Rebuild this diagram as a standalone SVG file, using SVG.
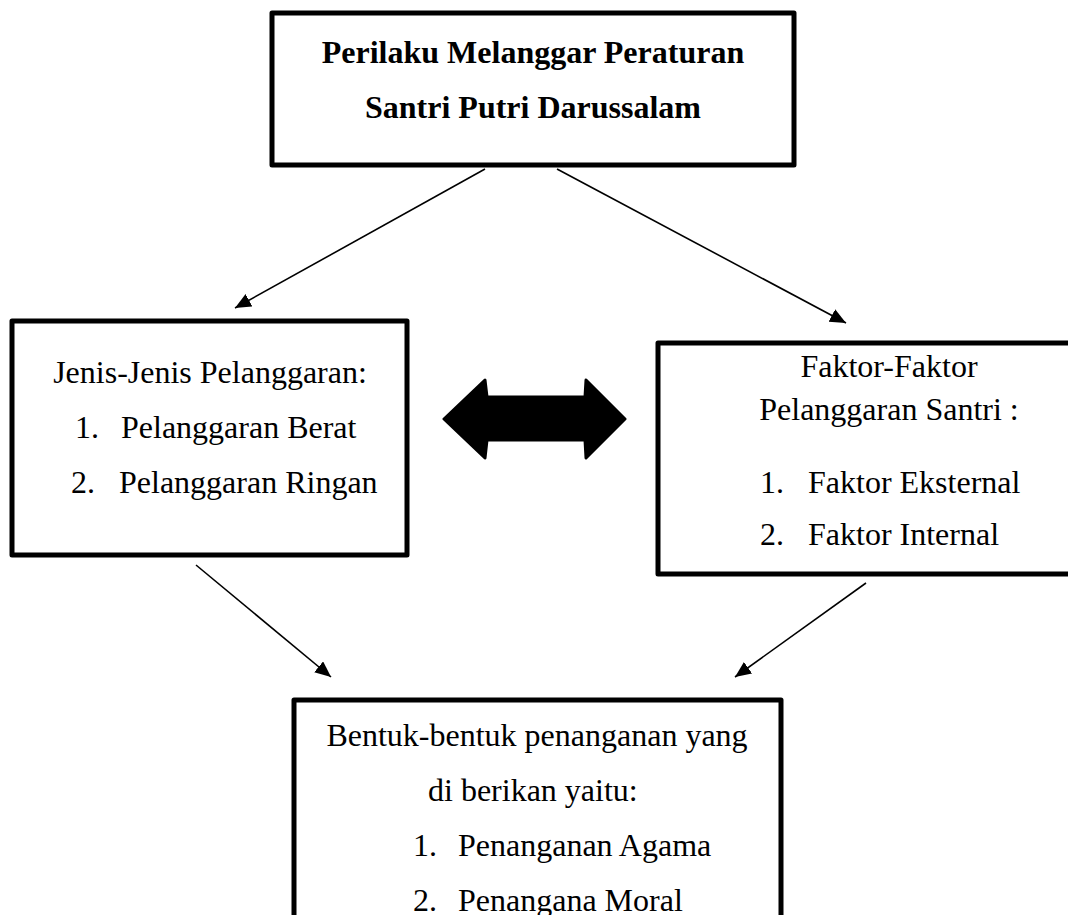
<svg xmlns="http://www.w3.org/2000/svg" width="1068" height="915" viewBox="0 0 1068 915">
<defs>
<style>
.box{fill:#fff;stroke:#000;stroke-width:5;stroke-linejoin:round}
.t{font-family:"Liberation Serif","Times New Roman",serif;font-size:32px;fill:#000}
.b{font-weight:bold}
.conn{stroke:#000;stroke-width:1.6;fill:none}
</style>
<marker id="ah" markerUnits="userSpaceOnUse" markerWidth="18" markerHeight="16" refX="16" refY="7" orient="auto">
<path d="M0,0 L16,7 L0,14 Z" fill="#000"/>
</marker>
</defs>
<rect width="1068" height="915" fill="#fff"/>
<g id="node-top">
<rect class="box" x="272" y="13" width="522" height="152"/>
<text class="t b" x="533" y="63" text-anchor="middle">Perilaku Melanggar Peraturan</text>
<text class="t b" x="533" y="118" text-anchor="middle">Santri Putri Darussalam</text>
</g>
<g id="node-jenis">
<rect class="box" x="12" y="321" width="395" height="234"/>
<text class="t" x="210" y="383" text-anchor="middle">Jenis-Jenis Pelanggaran:</text>
<text class="t" x="75" y="438">1.</text>
<text class="t" x="121" y="438">Pelanggaran Berat</text>
<text class="t" x="71" y="493">2.</text>
<text class="t" x="119" y="493">Pelanggaran Ringan</text>
</g>
<g id="node-faktor">
<rect class="box" x="658" y="343" width="420" height="231"/>
<text class="t" x="889" y="377" text-anchor="middle">Faktor-Faktor</text>
<text class="t" x="889" y="420" text-anchor="middle">Pelanggaran Santri :</text>
<text class="t" x="760" y="493">1.</text>
<text class="t" x="808" y="493">Faktor Eksternal</text>
<text class="t" x="760" y="545">2.</text>
<text class="t" x="808" y="545">Faktor Internal</text>
</g>
<g id="node-bentuk">
<rect class="box" x="294" y="700" width="487" height="240"/>
<text class="t" x="537" y="746" text-anchor="middle">Bentuk-bentuk penanganan yang</text>
<text class="t" x="428" y="801">di berikan yaitu:</text>
<text class="t" x="413" y="856">1.</text>
<text class="t" x="458" y="856">Penanganan Agama</text>
<text class="t" x="413" y="911">2.</text>
<text class="t" x="458" y="911">Penangana Moral</text>
</g>
<g id="connectors">
<line class="conn" x1="485" y1="169" x2="235" y2="308" marker-end="url(#ah)"/>
<line class="conn" x1="557" y1="169" x2="846" y2="323" marker-end="url(#ah)"/>
<line class="conn" x1="196" y1="565" x2="331" y2="677" marker-end="url(#ah)"/>
<line class="conn" x1="866" y1="583" x2="735" y2="677" marker-end="url(#ah)"/>
<path id="double-arrow" d="M444,419 L485,380 L487,397 L585,397 L586,380 L625,419 L586,458 L585,440 L487,440 L485,458 Z" fill="#000" stroke="#000" stroke-width="3" stroke-linejoin="round"/>
</g>
</svg>
